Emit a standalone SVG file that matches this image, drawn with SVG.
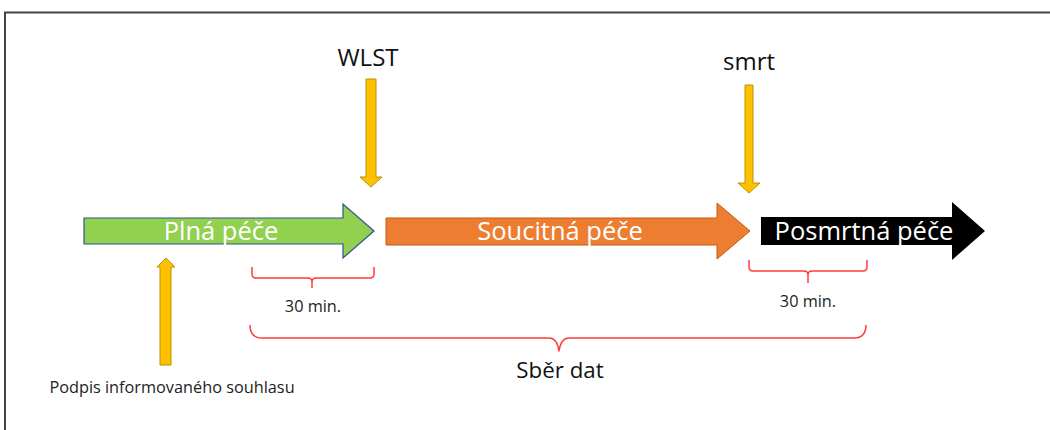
<svg xmlns="http://www.w3.org/2000/svg" width="1050" height="430" viewBox="0 0 1050 430">
  <style>
    .lbl { font-family: "Open Sans", "Liberation Sans", sans-serif; }
    .phase { font-size: 25.5px; fill: #ffffff; text-anchor: middle; }
    .top { font-size: 24px; fill: #111111; text-anchor: middle; }
    .small { font-size: 16.3px; fill: #222222; text-anchor: middle; }
    .mark { fill: #FFC000; stroke: #BF9000; stroke-width: 1; }
    .brace { fill: none; stroke: #FF3B3B; stroke-width: 1.5; stroke-linejoin: round; }
  </style>

  <!-- frame -->
  <g id="frame" fill="none" stroke="#444444" stroke-width="2">
    <path d="M5 430 V12.5 H1050"/>
  </g>

  <!-- phase arrows -->
  <g id="phase-full">
    <path d="M84 218 H343 V204 L374 231 L343 258 V244 H84 Z" fill="#92D050" stroke="#2F528F" stroke-width="1.2"/>
    <text class="lbl phase" x="221" y="240">Plná péče</text>
  </g>
  <g id="phase-comfort">
    <path d="M386 218 H717 V203 L750 231 L717 259 V245 H386 Z" fill="#ED7D31" stroke="#C55A11" stroke-width="1"/>
    <text class="lbl phase" x="560" y="240">Soucitná péče</text>
  </g>
  <g id="phase-postmortem">
    <path d="M761 217 H952 V202 L985 231 L952 260 V245 H761 Z" fill="#000000"/>
    <text class="lbl phase" x="864" y="240">Posmrtná péče</text>
  </g>

  <!-- event markers -->
  <g id="event-wlst">
    <text class="lbl top" x="368" y="66">WLST</text>
    <path class="mark" d="M366 79 H376 V177 H382 L371 187 L360 177 H366 Z"/>
  </g>
  <g id="event-death">
    <text class="lbl top" x="749" y="70">smrt</text>
    <path class="mark" d="M745 85 H753 V183 H760 L749 193 L738 183 H745 Z"/>
  </g>
  <g id="event-consent">
    <path class="mark" d="M160 365 V267 H157 L166 258 L175 267 H171 V365 Z"/>
    <text class="lbl small" x="172" y="393" font-size="17.3">Podpis informovaného souhlasu</text>
  </g>

  <!-- braces -->
  <g id="connectors">
    <path class="brace" d="M252 267 V274 Q252 278 256 278 H308 Q312 278 312 282 V288 M312 288 V282 Q312 278 316 278 H370 Q374 278 374 274 V267"/>
    <path class="brace" d="M749 260 V267 Q749 271 753 271 H804 Q808 271 808 275 V283 M808 283 V275 Q808 271 812 271 H863 Q867 271 867 267 V260"/>
    <path class="brace" stroke="#FF1A1A" stroke-width="2" d="M250 325 Q250 338 262 338 H549 Q557 338 559 351 Q561 338 569 338 H854 Q866 338 866 325"/>
  </g>

  <g id="brace-labels">
    <text class="lbl small" x="313" y="312">30 min.</text>
    <text class="lbl small" x="808" y="307">30 min.</text>
    <text class="lbl" x="560" y="378" font-size="22.3" fill="#111111" text-anchor="middle">Sběr dat</text>
  </g>
</svg>
